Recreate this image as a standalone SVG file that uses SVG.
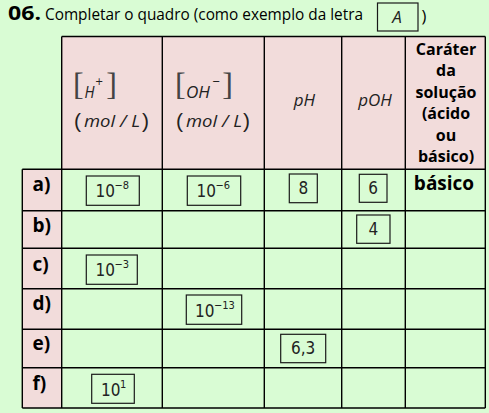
<svg xmlns="http://www.w3.org/2000/svg" width="489" height="413" viewBox="0 0 489 413">
<style>
.grid{stroke:#000;stroke-width:1.4;fill:none}
.pink{fill:#f2dcdb}
.box{fill:none;stroke:#1a1a1a;stroke-width:1.2}
.lbl{font-family:"Open Sans","Liberation Sans",sans-serif;font-weight:bold;font-size:19px;fill:#000}
.hd{font-family:"Open Sans","Liberation Sans",sans-serif;font-weight:bold;font-size:16px;fill:#000;text-anchor:middle}
.num{font-family:"DejaVu Sans Condensed","DejaVu Sans",sans-serif;font-size:17px;fill:#222}
.sup{font-family:"DejaVu Sans Condensed","DejaVu Sans",sans-serif;font-size:11px;fill:#222}
.it{font-family:"Open Sans","Liberation Sans",sans-serif;font-style:italic;font-size:17px;fill:#222}
.br{font-family:"Liberation Serif",serif;font-size:32px;fill:#444}
.par{font-family:"Liberation Sans",sans-serif;font-size:21px;fill:#222}
</style>
<rect width="489" height="413" fill="#d9fcd4"/>
<g id="title">
<text x="8" y="20" font-family="Open Sans, Liberation Sans, sans-serif" font-weight="bold" font-size="20" fill="#000" textLength="33" lengthAdjust="spacingAndGlyphs">06.</text>
<text x="45" y="19.5" font-family="Open Sans, Liberation Sans, sans-serif" font-size="16.5" fill="#000" textLength="318" lengthAdjust="spacingAndGlyphs">Completar o quadro (como exemplo da letra</text>
<rect class="box" x="377.5" y="3" width="40.5" height="28"/>
<text x="397" y="22.5" class="it" font-size="16.5" text-anchor="middle">A</text>
<text x="424" y="22" font-family="Open Sans, Liberation Sans, sans-serif" font-size="16.5" fill="#000" text-anchor="middle">)</text>
</g>
<g id="header-cells">
<rect class="pink" x="61.7" y="36.5" width="423.6" height="132.8"/>
<rect class="pink" x="22.3" y="169.3" width="39.4" height="238.7"/>
</g>
<g id="grid">
<path class="grid" d="M61.7 36.5H485.3M22.3 169.3H485.3M22.3 210.7H485.3M22.3 248.3H485.3M22.3 288.7H485.3M22.3 329.3H485.3M22.3 367.7H485.3M22.3 408H485.3"/>
<path class="grid" d="M22.3 169.3V408M61.7 36.5V408M162.3 36.5V408M264.3 36.5V408M341.7 36.5V408M405.3 36.5V408M485.3 36.5V408"/>
</g>
<g id="col-h">
<text class="br" x="73" y="95">[</text>
<text class="it" x="84.5" y="97.7" textLength="10" lengthAdjust="spacingAndGlyphs">H</text>
<text class="sup" x="95" y="85">+</text>
<text class="br" x="117" y="95" text-anchor="end">]</text>
<text class="par" x="74" y="128.3">(</text>
<text class="it" x="84" y="126.7" textLength="56" lengthAdjust="spacingAndGlyphs">mol / L</text>
<text class="par" x="149" y="128.3" text-anchor="end">)</text>
</g>
<g id="col-oh">
<text class="br" x="175" y="95">[</text>
<text class="it" x="186" y="97.7" textLength="24" lengthAdjust="spacingAndGlyphs">OH</text>
<text class="sup" x="212" y="85">−</text>
<text class="br" x="233" y="95" text-anchor="end">]</text>
<text class="par" x="176" y="128.3">(</text>
<text class="it" x="186" y="126.7" textLength="56" lengthAdjust="spacingAndGlyphs">mol / L</text>
<text class="par" x="250" y="128.3" text-anchor="end">)</text>
</g>
<g id="col-ph"><text class="it" x="304.5" y="106" text-anchor="middle">pH</text></g>
<g id="col-poh"><text class="it" x="375" y="106" text-anchor="middle">pOH</text></g>
<g id="col-carater">
<text class="hd" x="446" y="55">Caráter</text>
<text class="hd" x="446" y="76.4">da</text>
<text class="hd" x="446" y="97.8">solução</text>
<text class="hd" x="446" y="119.2">(ácido</text>
<text class="hd" x="446" y="140.6">ou</text>
<text class="hd" x="446" y="162">básico)</text>
</g>
<g id="row-a">
<text class="lbl" x="32.5" y="190.7">a)</text>
<rect class="box" x="86.3" y="176" width="53" height="29.3"/>
<text class="num" x="95.5" y="196.5">10</text><text class="sup" x="114.5" y="188.5">−8</text>
<rect class="box" x="187.3" y="176" width="53.4" height="29.3"/>
<text class="num" x="196.5" y="196.5">10</text><text class="sup" x="215.5" y="188.5">−6</text>
<rect class="box" x="289.3" y="174" width="28" height="28.7"/>
<text class="num" x="303.3" y="194" text-anchor="middle">8</text>
<rect class="box" x="359.3" y="174.3" width="27.7" height="28"/>
<text class="num" x="373.2" y="194" text-anchor="middle">6</text>
<text class="lbl" x="444" y="190" text-anchor="middle">básico</text>
</g>
<g id="row-b">
<text class="lbl" x="32.5" y="231.7">b)</text>
<rect class="box" x="356.7" y="215" width="33.3" height="28.3"/>
<text class="num" x="373.4" y="235" text-anchor="middle">4</text>
</g>
<g id="row-c">
<text class="lbl" x="32.5" y="270.7">c)</text>
<rect class="box" x="86.3" y="255" width="51" height="29.3"/>
<text class="num" x="95.5" y="275.5">10</text><text class="sup" x="114.5" y="267.5">−3</text>
</g>
<g id="row-d">
<text class="lbl" x="32.5" y="310">d)</text>
<rect class="box" x="186.3" y="295" width="55.4" height="29.3"/>
<text class="num" x="195" y="316.5">10</text><text class="sup" x="214" y="308.5">−13</text>
</g>
<g id="row-e">
<text class="lbl" x="32.5" y="350">e)</text>
<rect class="box" x="280.7" y="334.3" width="45" height="28.4"/>
<text class="num" x="303.2" y="354" text-anchor="middle">6,3</text>
</g>
<g id="row-f">
<text class="lbl" x="32.5" y="390">f)</text>
<rect class="box" x="91.7" y="374.3" width="42.6" height="29"/>
<text class="num" x="101" y="395.5">10</text><text class="sup" x="120" y="387.5">1</text>
</g>
</svg>
